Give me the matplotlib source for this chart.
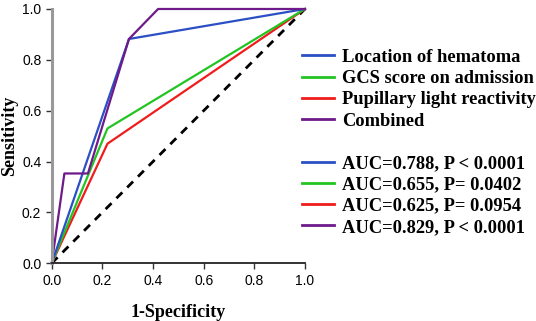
import matplotlib.pyplot as plt
from matplotlib.lines import Line2D

# ROC points (1-specificity, sensitivity)
loc_x = [0.0, 0.305, 1.0]
loc_y = [0.0, 0.882, 1.0]
gcs_x = [0.0, 0.22, 1.0]
gcs_y = [0.0, 0.53, 1.0]
pup_x = [0.0, 0.22, 1.0]
pup_y = [0.0, 0.47, 1.0]
comb_x = [0.0, 0.05, 0.143, 0.305, 0.42, 1.0]
comb_y = [0.0, 0.353, 0.353, 0.882, 1.0, 1.0]

names = ["Location of hematoma", "GCS score on admission",
         "Pupillary light reactivity", "Combined"]
auc_labels = ["AUC=0.788, P < 0.0001", "AUC=0.655, P= 0.0402",
              "AUC=0.625, P= 0.0954", "AUC=0.829, P < 0.0001"]
colors = ["#2b4fc4", "#22c422", "#f01c1c", "#6e1a8a"]
ticks = [0.0, 0.2, 0.4, 0.6, 0.8, 1.0]

fig = plt.figure(figsize=(5.36, 3.21), dpi=100)
ax = fig.add_axes([0.0965, 0.18, 0.4725, 0.792])

ax.plot([0, 1], [0, 1], color="black", lw=2, ls=(0, (3, 2.5)), clip_on=False)
for xs, ys, c in zip([pup_x, gcs_x, loc_x, comb_x], [pup_y, gcs_y, loc_y, comb_y],
                     [colors[2], colors[1], colors[0], colors[3]]):
    ax.plot(xs, ys, color=c, lw=1.6, clip_on=False)

ax.set_xlim(0, 1)
ax.set_ylim(0, 1)
ax.set_xticks(ticks)
ax.set_yticks(ticks)
ax.set_xticklabels(["%.1f" % t for t in ticks], family="Liberation Sans", fontsize=10)
ax.set_yticklabels(["%.1f" % t for t in ticks], family="Liberation Sans", fontsize=10)
for s in ["top", "right"]:
    ax.spines[s].set_visible(False)
ax.spines["left"].set_color("#999999")
ax.spines["left"].set_linewidth(2.2)
ax.spines["bottom"].set_color("#222222")
ax.spines["bottom"].set_linewidth(1.3)
ax.tick_params(length=4.5, width=1, color="#333333", pad=3)

ax.set_xlabel("1-Specificity", family="Liberation Serif", fontweight="bold", fontsize=13, labelpad=12)
ax.set_ylabel("Sensitivity", family="Liberation Serif", fontweight="bold", fontsize=13, labelpad=3)

handles = [Line2D([], [], color=c, lw=2) for c in colors]
blank = Line2D([], [], color="none")
fig.legend(handles + [blank] + handles, names + [""] + auc_labels,
           loc="upper left", bbox_to_anchor=(0.549, 0.871), frameon=False,
           prop={"family": "Liberation Serif", "weight": "bold", "size": 13.3},
           handlelength=1.75, handletextpad=0.45, labelspacing=0.23, borderaxespad=0)

fig.savefig("out.png", dpi=100)
